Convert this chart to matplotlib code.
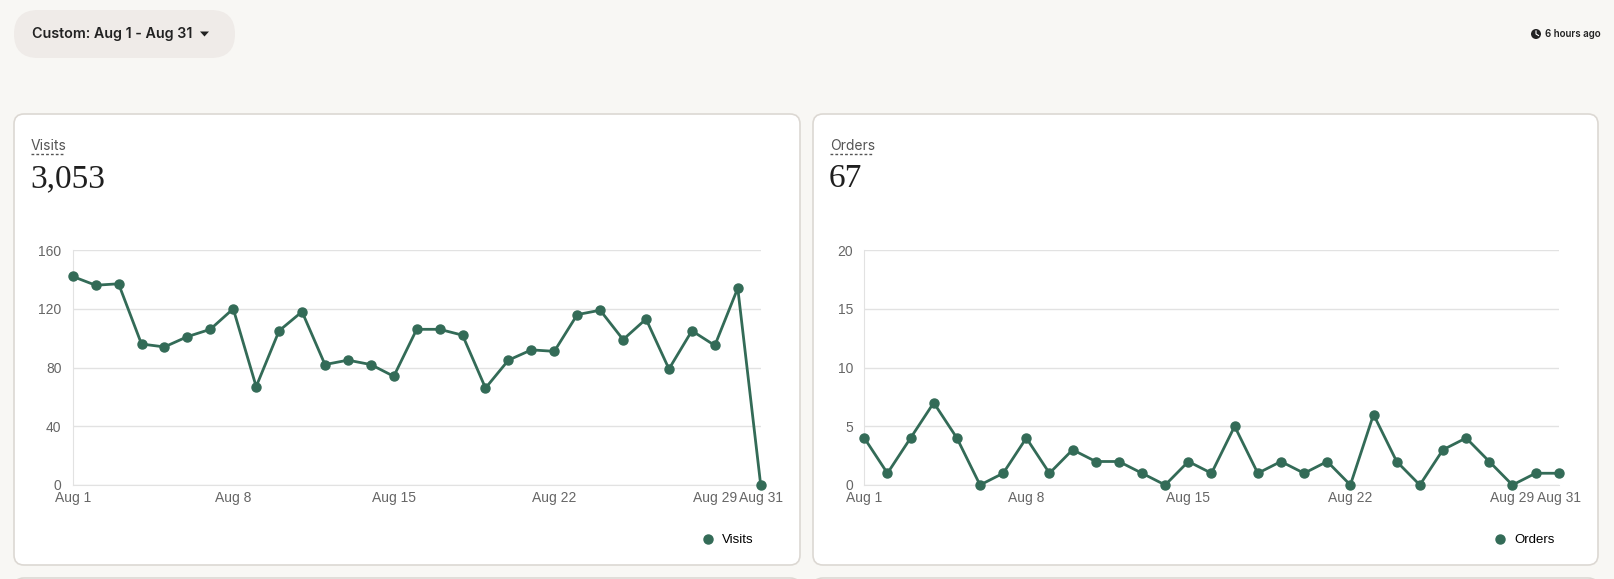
import matplotlib.pyplot as plt
from matplotlib.patches import FancyBboxPatch, Circle, Polygon
from matplotlib.lines import Line2D

# data (Aug 1 .. Aug 31)
days = list(range(1, 32))
visits = [142, 136, 137, 96, 94, 101, 106, 120, 67, 105, 118, 82, 85, 82, 74, 106,
          106, 102, 66, 85, 92, 91, 116, 119, 99, 113, 79, 105, 95, 134, 0]
orders = [4, 1, 4, 7, 4, 0, 1, 4, 1, 3, 2, 2, 1, 0, 2, 1,
          5, 1, 2, 1, 2, 0, 6, 2, 0, 3, 4, 2, 0, 1, 1]
tick_days = [1, 8, 15, 22, 29, 31]
tick_labels = ['Aug 1', 'Aug 8', 'Aug 15', 'Aug 22', 'Aug 29', 'Aug 31']
visit_yticks = [0, 40, 80, 120, 160]
order_yticks = [0, 5, 10, 15, 20]

W, H = 1615, 579
green = '#336b57'
bg = '#f8f7f4'

fig = plt.figure(figsize=(W / 100, H / 100), dpi=100, facecolor=bg)

# background layer in pixel coordinates
bgax = fig.add_axes([0, 0, 1, 1], zorder=-1)
bgax.set_xlim(0, W)
bgax.set_ylim(H, 0)
bgax.axis('off')

# date pill
bgax.add_patch(FancyBboxPatch((14, 10), 221, 48, boxstyle='round,pad=0,rounding_size=24',
                              fc='#efebe8', ec='none'))
bgax.text(32, 34, 'Custom: Aug 1 - Aug 31', fontsize=10.3, family='Inter',
          fontweight='semibold', color='#222222', va='center', ha='left')
bgax.add_patch(Polygon([[200, 31.5], [209, 31.5], [204.5, 36.5]], closed=True, fc='#222222', ec='none'))

# last update
bgax.add_patch(Circle((1536, 34), 5, fc='#222222', ec='none'))
bgax.plot([1536, 1536, 1538.5], [31, 34, 35.5], color='white', lw=0.8)
bgax.text(1545, 34, '6 hours ago', fontsize=7, family='Inter', fontweight='semibold',
          color='#222222', va='center', ha='left')

# cards
for x0, x1 in [(14, 800), (813, 1598)]:
    bgax.add_patch(FancyBboxPatch((x0, 114), x1 - x0, 451, boxstyle='round,pad=0,rounding_size=10',
                                  fc='white', ec='#dcd8d3', lw=1.2))
    bgax.add_patch(FancyBboxPatch((x0, 578), x1 - x0, 40, boxstyle='round,pad=0,rounding_size=10',
                                  fc='white', ec='#dcd8d3', lw=1.2))

# card headers
for x, name, total, ul in [(31, 'Visits', '3,053', 64), (830, 'Orders', '67', 873)]:
    bgax.text(x, 149.5, name, fontsize=10, family='Inter', color='#555555', va='baseline', ha='left')
    bgax.plot([x, ul], [154, 154], color='#555555', lw=1, ls=(0, (2, 1.5)))
    bgax.text(x - 1, 187, total, fontsize=24, family='Liberation Serif', color='#1f1f1f',
              va='baseline', ha='left')


def draw_panel(rect, values, yticks, name, legend_x):
    ax = fig.add_axes(rect)
    ax.set_facecolor('none')
    ax.plot(days, values, color=green, lw=2, marker='o', ms=6.5, clip_on=False, zorder=3)
    ax.set_xlim(1, 31)
    ax.set_ylim(yticks[0], yticks[-1])
    ax.set_xticks(tick_days, tick_labels)
    ax.set_yticks(yticks)
    ax.grid(axis='y', color='#e2e2e2', lw=1)
    for side in ['top', 'right']:
        ax.spines[side].set_visible(False)
    for side in ['left', 'bottom']:
        ax.spines[side].set_color('#e2e2e2')
    ax.tick_params(length=0, labelsize=10, labelcolor='#666666')
    ax.tick_params(axis='x', pad=4)
    ax.tick_params(axis='y', pad=8)
    for lab in ax.get_xticklabels() + ax.get_yticklabels():
        lab.set_family('Liberation Sans')
    for lab in ax.get_yticklabels():
        lab.set_verticalalignment('center_baseline')
    handle = Line2D([], [], color=green, marker='o', ls='none', ms=6.5)
    ax.legend([handle], [name], loc='center left', bbox_to_anchor=(legend_x / W, 1 - 540 / H),
              bbox_transform=fig.transFigure, frameon=False, borderpad=0, borderaxespad=0,
              handlelength=0.8, handletextpad=0.65,
              prop={'family': 'Liberation Sans', 'size': 9.5})
    return ax


bottom = 1 - 485 / H
height = 235 / H
draw_panel([72.7 / W, bottom, 688 / W, height], visits, visit_yticks, 'Visits', 703)
draw_panel([864.3 / W, bottom, 694.4 / W, height], orders, order_yticks, 'Orders', 1495)

fig.savefig('out.png', dpi=100, facecolor=bg)
